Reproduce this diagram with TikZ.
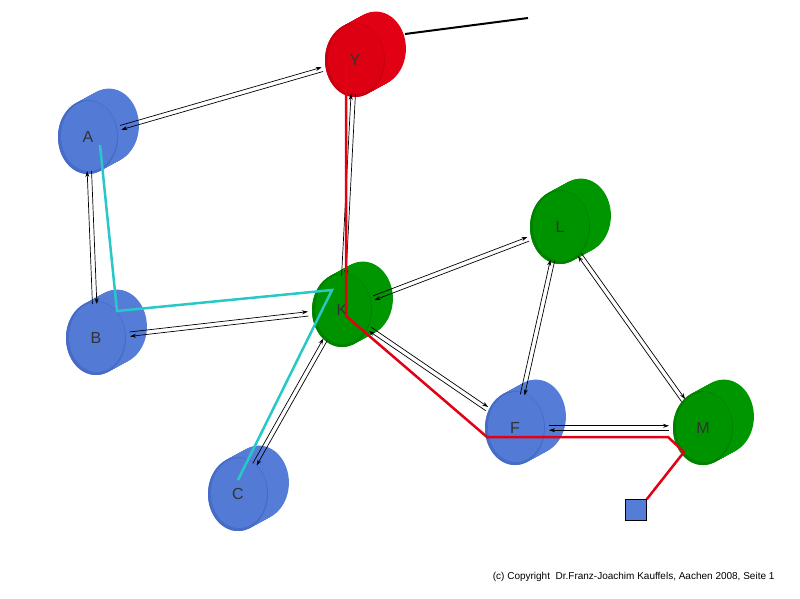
\documentclass[tikz,border=0pt]{standalone}
\usepackage{fontspec}
\setmainfont{Liberation Sans}
\usetikzlibrary{calc,arrows.meta}
\definecolor{cg}{RGB}{0,150,0}
\definecolor{cgd}{RGB}{0,130,0}
\definecolor{cb}{RGB}{85,125,215}
\definecolor{cbd}{RGB}{70,108,200}
\definecolor{cr}{RGB}{225,0,20}
\definecolor{crd}{RGB}{200,0,15}
\definecolor{cyanl}{RGB}{40,200,200}
\newcommand{\cyl}[3]{%
  \foreach \t in {0,0.05,...,1.0}{\fill[#2] ($(#1)+(22*\t,-12*\t)$) ellipse (30 and 37);}
  \fill[#3] (#1) ellipse (30 and 37);
  \fill[#2!85!#3] ($(#1)+(1,-1)$) ellipse (28 and 35);
}
\newcommand{\pair}[2]{%
  \draw[arr,shorten <=34,shorten >=34] ($(#1)!2.2pt!90:(#2)$) -- ($(#2)!2.2pt!-90:(#1)$);
  \draw[arr,shorten <=34,shorten >=34] ($(#2)!2.2pt!90:(#1)$) -- ($(#1)!2.2pt!-90:(#2)$);
}
\tikzset{arr/.style={-{Stealth[length=6,width=4]},line width=0.7},
  lab/.style={font=\fontsize{16}{16}\selectfont,text=black!80}}
\begin{document}
\begin{tikzpicture}[x=1pt,y=-1pt]
\useasboundingbox (0,0) rectangle (800,598);
\coordinate (Yc) at (355,60);
\coordinate (Ac) at (88,137);
\coordinate (Bc) at (96,338);
\coordinate (Kc) at (342,310);
\coordinate (Cc) at (238,494);
\coordinate (Lc) at (560,227);
\coordinate (Fc) at (515,428);
\coordinate (Mc) at (703,428);
\draw[line width=2] (405,34) coordinate (ye) -- (528,18) coordinate (yf);
\cyl{Yc}{cr}{crd}
\cyl{Ac}{cb}{cbd}
\cyl{Bc}{cb}{cbd}
\cyl{Kc}{cg}{cgd}
\cyl{Cc}{cb}{cbd}
\cyl{Lc}{cg}{cgd}
\cyl{Fc}{cb}{cbd}
\cyl{Mc}{cg}{cgd}
\node[lab] (Y) at (Yc) {Y};
\node[lab] (A) at (Ac) {A};
\node[lab] (B) at (Bc) {B};
\node[lab] (K) at (Kc) {K};
\node[lab] (C) at (Cc) {C};
\node[lab] (L) at (Lc) {L};
\node[lab] (F) at (Fc) {F};
\node[lab] (M) at (Mc) {M};
\pair{Ac}{Yc}
\pair{Ac}{Bc}
\pair{Bc}{Kc}
\pair{Cc}{Kc}
\pair{Kc}{Yc}
\pair{Kc}{Lc}
\pair{Kc}{Fc}
\pair{Lc}{Fc}
\pair{Lc}{Mc}
\pair{Fc}{Mc}
\node[draw=black,fill=cb,minimum size=21,inner sep=0] (sq) at (636,510) {};
\draw[cr,line width=2.5] (346,64) -- (346,316) -- (487,437) -- (668,437) -- (684,452) -- (sq.north east);
\draw[cyanl,line width=2.5] (100,145) -- (117,311) -- (332,290) -- (238,480);
\node[font=\fontsize{10}{10}\selectfont,anchor=east] (cp) at (778,577) {(c) Copyright \ Dr.Franz-Joachim Kauffels, Aachen 2008, Seite 1};
\end{tikzpicture}
\end{document}
